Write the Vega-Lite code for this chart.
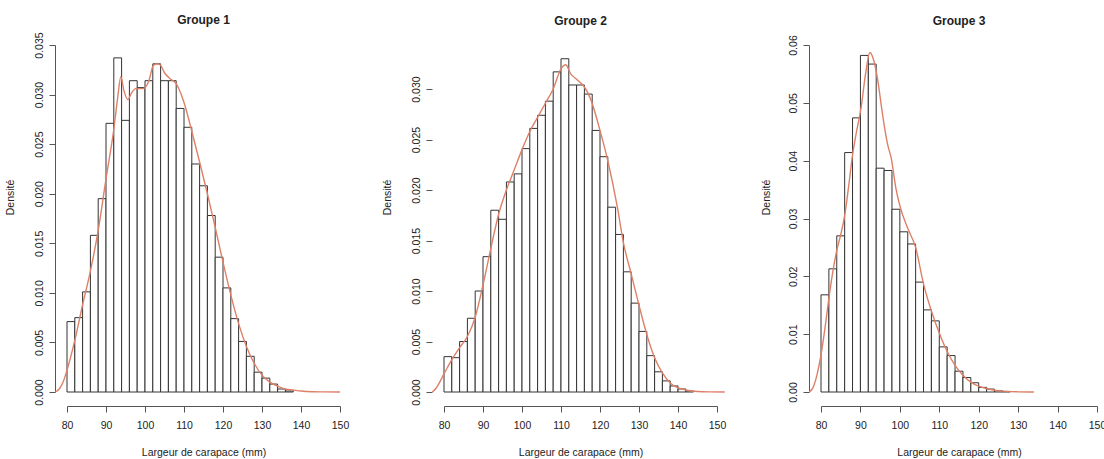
{
  "$schema": "https://vega.github.io/schema/vega-lite/v6.json",
  "background": "white",
  "padding": {"left": 5, "top": 13, "right": 0, "bottom": 0},
  "bounds": "flush",
  "spacing": 104,
  "config": {
    "font": "Liberation Sans",
    "view": {"stroke": null},
    "axis": {
      "grid": false, "domainColor": "#555", "tickColor": "#555", "labelColor": "#222", "titleColor": "#222",
      "labelFont": "Liberation Sans", "titleFont": "Liberation Sans", "labelFontSize": 10.5, "titleFontSize": 10.5,
      "titleFontWeight": "normal", "tickSize": 6, "labelFlush": false, "labelOverlap": false
    },
    "axisX": {"offset": 14, "labelPadding": 8, "labelAngle": 0, "titleBaseline": "middle", "titleY": 46, "values": [80, 90, 100, 110, 120, 130, 140, 150]},
    "axisY": {"offset": 12, "labelAngle": 270, "labelAlign": "center", "labelBaseline": "bottom", "labelPadding": 5, "titleAngle": 270, "titleBaseline": "middle", "titleAlign": "center", "titleX": -45, "titleY": 152},
    "title": {"font": "Liberation Sans", "fontSize": 12, "fontWeight": "bold", "color": "#222", "frame": "group", "anchor": "middle", "baseline": "alphabetic"}
  },
  "datasets": {
    "h1": [
      {"largeur": 80, "fin": 82, "densite": 0.0071}, {"largeur": 82, "fin": 84, "densite": 0.0075}, {"largeur": 84, "fin": 86, "densite": 0.0101},
      {"largeur": 86, "fin": 88, "densite": 0.0158}, {"largeur": 88, "fin": 90, "densite": 0.0195}, {"largeur": 90, "fin": 92, "densite": 0.0271},
      {"largeur": 92, "fin": 94, "densite": 0.0337}, {"largeur": 94, "fin": 96, "densite": 0.0274}, {"largeur": 96, "fin": 98, "densite": 0.0314},
      {"largeur": 98, "fin": 100, "densite": 0.0307}, {"largeur": 100, "fin": 102, "densite": 0.0314}, {"largeur": 102, "fin": 104, "densite": 0.0331},
      {"largeur": 104, "fin": 106, "densite": 0.0314}, {"largeur": 106, "fin": 108, "densite": 0.0314}, {"largeur": 108, "fin": 110, "densite": 0.0286},
      {"largeur": 110, "fin": 112, "densite": 0.0267}, {"largeur": 112, "fin": 114, "densite": 0.0230}, {"largeur": 114, "fin": 116, "densite": 0.0208},
      {"largeur": 116, "fin": 118, "densite": 0.0178}, {"largeur": 118, "fin": 120, "densite": 0.0136}, {"largeur": 120, "fin": 122, "densite": 0.0105},
      {"largeur": 122, "fin": 124, "densite": 0.0074}, {"largeur": 124, "fin": 126, "densite": 0.0051}, {"largeur": 126, "fin": 128, "densite": 0.0036},
      {"largeur": 128, "fin": 130, "densite": 0.0020}, {"largeur": 130, "fin": 132, "densite": 0.0014}, {"largeur": 132, "fin": 134, "densite": 0.0008},
      {"largeur": 134, "fin": 136, "densite": 0.0003}, {"largeur": 136, "fin": 138, "densite": 0.0001}
    ],
    "d1": [
      {"largeur": 77, "densite": 0}, {"largeur": 78, "densite": 0.0003}, {"largeur": 79, "densite": 0.0010}, {"largeur": 80, "densite": 0.0022},
      {"largeur": 82, "densite": 0.0052}, {"largeur": 84, "densite": 0.0088}, {"largeur": 86, "densite": 0.0122}, {"largeur": 88, "densite": 0.0163},
      {"largeur": 90, "densite": 0.0215}, {"largeur": 92, "densite": 0.0265}, {"largeur": 93, "densite": 0.0297}, {"largeur": 93.8, "densite": 0.0318},
      {"largeur": 94.6, "densite": 0.0304}, {"largeur": 95.6, "densite": 0.0295}, {"largeur": 96.6, "densite": 0.0302}, {"largeur": 97.6, "densite": 0.0306},
      {"largeur": 99.5, "densite": 0.0306}, {"largeur": 101, "densite": 0.0314}, {"largeur": 102.1, "densite": 0.0329}, {"largeur": 103, "densite": 0.0331},
      {"largeur": 103.9, "densite": 0.0330}, {"largeur": 105, "densite": 0.0322}, {"largeur": 106.4, "densite": 0.0316}, {"largeur": 108, "densite": 0.0311},
      {"largeur": 110, "densite": 0.0292}, {"largeur": 112, "densite": 0.0263}, {"largeur": 114, "densite": 0.0232}, {"largeur": 116, "densite": 0.0200},
      {"largeur": 118, "densite": 0.0166}, {"largeur": 120, "densite": 0.0131}, {"largeur": 122, "densite": 0.0098}, {"largeur": 124, "densite": 0.0069},
      {"largeur": 126, "densite": 0.0046}, {"largeur": 128, "densite": 0.0029}, {"largeur": 130, "densite": 0.0017}, {"largeur": 132, "densite": 0.0010},
      {"largeur": 134, "densite": 0.0006}, {"largeur": 136, "densite": 0.0003}, {"largeur": 138, "densite": 0.0002}, {"largeur": 140, "densite": 0.0001},
      {"largeur": 143, "densite": 0.00003}, {"largeur": 146, "densite": 0.00001}, {"largeur": 150, "densite": 0}
    ],
    "h2": [
      {"largeur": 80, "fin": 82, "densite": 0.0035}, {"largeur": 82, "fin": 84, "densite": 0.0034}, {"largeur": 84, "fin": 86, "densite": 0.0050},
      {"largeur": 86, "fin": 88, "densite": 0.0073}, {"largeur": 88, "fin": 90, "densite": 0.0100}, {"largeur": 90, "fin": 92, "densite": 0.0134},
      {"largeur": 92, "fin": 94, "densite": 0.0180}, {"largeur": 94, "fin": 96, "densite": 0.0171}, {"largeur": 96, "fin": 98, "densite": 0.0208},
      {"largeur": 98, "fin": 100, "densite": 0.0216}, {"largeur": 100, "fin": 102, "densite": 0.0241}, {"largeur": 102, "fin": 104, "densite": 0.0261},
      {"largeur": 104, "fin": 106, "densite": 0.0274}, {"largeur": 106, "fin": 108, "densite": 0.0288}, {"largeur": 108, "fin": 110, "densite": 0.0317},
      {"largeur": 110, "fin": 112, "densite": 0.0330}, {"largeur": 112, "fin": 114, "densite": 0.0304}, {"largeur": 114, "fin": 116, "densite": 0.0304},
      {"largeur": 116, "fin": 118, "densite": 0.0295}, {"largeur": 118, "fin": 120, "densite": 0.0259}, {"largeur": 120, "fin": 122, "densite": 0.0233},
      {"largeur": 122, "fin": 124, "densite": 0.0183}, {"largeur": 124, "fin": 126, "densite": 0.0156}, {"largeur": 126, "fin": 128, "densite": 0.0119},
      {"largeur": 128, "fin": 130, "densite": 0.0088}, {"largeur": 130, "fin": 132, "densite": 0.0060}, {"largeur": 132, "fin": 134, "densite": 0.0036},
      {"largeur": 134, "fin": 136, "densite": 0.0020}, {"largeur": 136, "fin": 138, "densite": 0.0011}, {"largeur": 138, "fin": 140, "densite": 0.0006},
      {"largeur": 140, "fin": 142, "densite": 0.0003}, {"largeur": 142, "fin": 144, "densite": 0.0001}
    ],
    "d2": [
      {"largeur": 77, "densite": 0}, {"largeur": 78, "densite": 0.0004}, {"largeur": 80, "densite": 0.0018}, {"largeur": 82, "densite": 0.0032},
      {"largeur": 84, "densite": 0.0044}, {"largeur": 86, "densite": 0.0055}, {"largeur": 88, "densite": 0.0074}, {"largeur": 90, "densite": 0.0106},
      {"largeur": 92, "densite": 0.0142}, {"largeur": 94, "densite": 0.0176}, {"largeur": 96, "densite": 0.0200}, {"largeur": 98, "densite": 0.0220},
      {"largeur": 100, "densite": 0.0240}, {"largeur": 102, "densite": 0.0258}, {"largeur": 104, "densite": 0.0272}, {"largeur": 106, "densite": 0.0286},
      {"largeur": 108, "densite": 0.0300}, {"largeur": 110, "densite": 0.0320}, {"largeur": 111.2, "densite": 0.0324}, {"largeur": 112.5, "densite": 0.0315},
      {"largeur": 114.2, "densite": 0.0309}, {"largeur": 116, "densite": 0.0302}, {"largeur": 117.6, "densite": 0.0290}, {"largeur": 120, "densite": 0.0259},
      {"largeur": 122, "densite": 0.0229}, {"largeur": 124.5, "densite": 0.0182}, {"largeur": 126, "densite": 0.0148}, {"largeur": 128, "densite": 0.0117},
      {"largeur": 130, "densite": 0.0086}, {"largeur": 132, "densite": 0.0057}, {"largeur": 134, "densite": 0.0034}, {"largeur": 136, "densite": 0.0019},
      {"largeur": 138, "densite": 0.0009}, {"largeur": 140, "densite": 0.0004}, {"largeur": 142, "densite": 0.0002}, {"largeur": 145, "densite": 0.00005},
      {"largeur": 148, "densite": 0.00001}, {"largeur": 152, "densite": 0}
    ],
    "h3": [
      {"largeur": 80, "fin": 82, "densite": 0.0168}, {"largeur": 82, "fin": 84, "densite": 0.0213}, {"largeur": 84, "fin": 86, "densite": 0.0270},
      {"largeur": 86, "fin": 88, "densite": 0.0414}, {"largeur": 88, "fin": 90, "densite": 0.0474}, {"largeur": 90, "fin": 92, "densite": 0.0582},
      {"largeur": 92, "fin": 94, "densite": 0.0567}, {"largeur": 94, "fin": 96, "densite": 0.0387}, {"largeur": 96, "fin": 98, "densite": 0.0383},
      {"largeur": 98, "fin": 100, "densite": 0.0316}, {"largeur": 100, "fin": 102, "densite": 0.0277}, {"largeur": 102, "fin": 104, "densite": 0.0256},
      {"largeur": 104, "fin": 106, "densite": 0.0190}, {"largeur": 106, "fin": 108, "densite": 0.0142}, {"largeur": 108, "fin": 110, "densite": 0.0123},
      {"largeur": 110, "fin": 112, "densite": 0.0078}, {"largeur": 112, "fin": 114, "densite": 0.0063}, {"largeur": 114, "fin": 116, "densite": 0.0036},
      {"largeur": 116, "fin": 118, "densite": 0.0025}, {"largeur": 118, "fin": 120, "densite": 0.0016}, {"largeur": 120, "fin": 122, "densite": 0.0008},
      {"largeur": 122, "fin": 124, "densite": 0.0005}, {"largeur": 124, "fin": 126, "densite": 0.0002}, {"largeur": 126, "fin": 128, "densite": 0.0001}
    ],
    "d3": [
      {"largeur": 77, "densite": 0}, {"largeur": 78, "densite": 0.0008}, {"largeur": 79, "densite": 0.0030}, {"largeur": 80, "densite": 0.0064},
      {"largeur": 81, "densite": 0.0110}, {"largeur": 82, "densite": 0.0162}, {"largeur": 83, "densite": 0.0208}, {"largeur": 84, "densite": 0.0245},
      {"largeur": 85, "densite": 0.0272}, {"largeur": 86, "densite": 0.0305}, {"largeur": 87, "densite": 0.0355}, {"largeur": 88, "densite": 0.0410},
      {"largeur": 89, "densite": 0.0450}, {"largeur": 90.2, "densite": 0.0493}, {"largeur": 91.3, "densite": 0.0550}, {"largeur": 92.4, "densite": 0.0587},
      {"largeur": 93.3, "densite": 0.0575}, {"largeur": 94.4, "densite": 0.0539}, {"largeur": 95.2, "densite": 0.0500}, {"largeur": 96.1, "densite": 0.0458},
      {"largeur": 97, "densite": 0.0425}, {"largeur": 97.8, "densite": 0.0405}, {"largeur": 99, "densite": 0.0352}, {"largeur": 100, "densite": 0.0322},
      {"largeur": 102, "densite": 0.0283}, {"largeur": 104, "densite": 0.0250}, {"largeur": 106, "densite": 0.0187}, {"largeur": 108, "densite": 0.0140},
      {"largeur": 110, "densite": 0.0102}, {"largeur": 112, "densite": 0.0070}, {"largeur": 114, "densite": 0.0046}, {"largeur": 116, "densite": 0.0029},
      {"largeur": 118, "densite": 0.0017}, {"largeur": 120, "densite": 0.0010}, {"largeur": 122, "densite": 0.0006}, {"largeur": 124, "densite": 0.0003},
      {"largeur": 126, "densite": 0.00015}, {"largeur": 128, "densite": 0.00007}, {"largeur": 130, "densite": 0.00003}, {"largeur": 134, "densite": 0}
    ]
  },
  "hconcat": [
    {
      "width": 273, "height": 347, "title": {"text": "Groupe 1", "offset": 5},
      "encoding": {
        "x": {"field": "largeur", "type": "quantitative", "scale": {"domain": [80, 150], "nice": false, "zero": false}, "axis": {"title": "Largeur de carapace (mm)"}},
        "y": {"field": "densite", "type": "quantitative", "scale": {"domain": [0, 0.035], "nice": false}, "axis": {"title": "Densité", "format": ".3f", "values": [0, 0.005, 0.01, 0.015, 0.02, 0.025, 0.03, 0.035]}}
      },
      "layer": [
        {"data": {"name": "h1"}, "mark": {"type": "rect", "fill": "white", "stroke": "#333", "strokeWidth": 1}, "encoding": {"x2": {"field": "fin"}, "y2": {"datum": 0}}},
        {"data": {"name": "d1"}, "mark": {"type": "line", "color": "#DE8068", "strokeWidth": 1.4, "interpolate": "monotone"}, "encoding": {}}
      ]
    },
    {
      "width": 273, "height": 347, "title": {"text": "Groupe 2", "offset": 17},
      "encoding": {
        "x": {"field": "largeur", "type": "quantitative", "scale": {"domain": [80, 150], "nice": false, "zero": false}, "axis": {"title": "Largeur de carapace (mm)"}},
        "y": {"field": "densite", "type": "quantitative", "scale": {"domain": [0, 0.03436], "nice": false}, "axis": {"title": "Densité", "format": ".3f", "domain": false, "values": [0, 0.005, 0.01, 0.015, 0.02, 0.025, 0.03]}}
      },
      "layer": [
        {"data": {"values": [{}]}, "mark": {"type": "rule", "color": "#555", "strokeWidth": 1}, "encoding": {"x": {"datum": 76.92, "type": "quantitative"}, "y": {"datum": 0, "type": "quantitative"}, "y2": {"datum": 0.03}}},
        {"data": {"name": "h2"}, "mark": {"type": "rect", "fill": "white", "stroke": "#333", "strokeWidth": 1}, "encoding": {"x2": {"field": "fin"}, "y2": {"datum": 0}}},
        {"data": {"name": "d2"}, "mark": {"type": "line", "color": "#DE8068", "strokeWidth": 1.4, "interpolate": "monotone"}, "encoding": {}}
      ]
    },
    {
      "width": 276, "height": 347, "title": {"text": "Groupe 3", "offset": 7},
      "encoding": {
        "x": {"field": "largeur", "type": "quantitative", "scale": {"domain": [80, 150], "nice": false, "zero": false}, "axis": {"title": "Largeur de carapace (mm)"}},
        "y": {"field": "densite", "type": "quantitative", "scale": {"domain": [0, 0.06], "nice": false}, "axis": {"title": "Densité", "format": ".2f", "titleX": -43, "values": [0, 0.01, 0.02, 0.03, 0.04, 0.05, 0.06]}}
      },
      "layer": [
        {"data": {"name": "h3"}, "mark": {"type": "rect", "fill": "white", "stroke": "#333", "strokeWidth": 1}, "encoding": {"x2": {"field": "fin"}, "y2": {"datum": 0}}},
        {"data": {"name": "d3"}, "mark": {"type": "line", "color": "#DE8068", "strokeWidth": 1.4, "interpolate": "monotone"}, "encoding": {}}
      ]
    }
  ]
}
